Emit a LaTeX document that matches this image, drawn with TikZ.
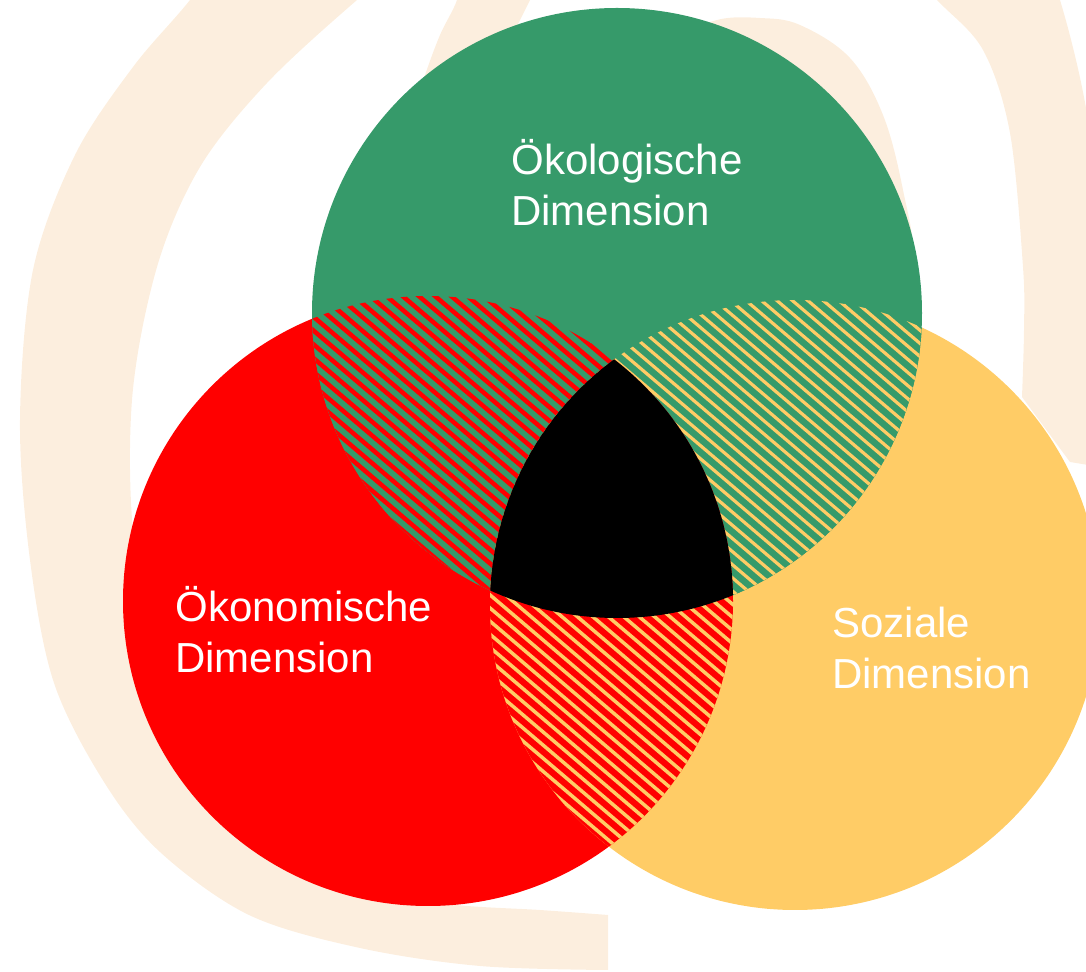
\documentclass[tikz,border=0pt]{standalone}
\usepackage{fontspec}
\setmainfont{Liberation Sans}
\begin{document}
\begin{tikzpicture}[x=0.02cm,y=-0.02cm]
\definecolor{cgreen}{HTML}{369A6A}
\definecolor{cred}{HTML}{FF0000}
\definecolor{cyellow}{HTML}{FFCC66}
\definecolor{cbeige}{HTML}{FCEEDE}
\tikzset{
  lbl/.style={anchor=base west, inner sep=0pt, text=white, font=\fontsize{23.9pt}{29pt}\selectfont},
  redstripe/.style={draw=cred, line width=0.09cm},
  yelstripeg/.style={draw=cyellow, line width=0.064cm},
  yelstriper/.style={draw=cyellow, line width=0.07cm},
  beige/.style={fill=cbeige, draw=none},
}
\useasboundingbox (0,0) rectangle (1086,972);
\clip (0,0) rectangle (1086,972);
\coordinate (G) at (617,313);
\coordinate (R) at (428,601);
\coordinate (Y) at (795,605);
% background "@" : outer spiral stroke
\fill[beige] plot[smooth, tension=0.55] coordinates {(608,970) (480,966) (360,948) (249,915) (160,852) (104,782) (54,683) (30,560) (20,420) (33,270) (75,155) (133,67) (190,0) (250,-80)}
  -- (250,-300) -- (1060,-300) -- (1060,0) .. controls (1072,40) and (1084,90) .. (1090,133)
  -- (1300,133) -- (1300,500) -- (1070,462) -- (1022,397)
  -- plot[smooth, tension=0.55] coordinates {(1022,397) (1024,330) (1023,267) (1010,133) (983,50) (937,0) (890,-50)}
  -- (420,-50)
  -- plot[smooth, tension=0.55] coordinates {(420,-50) (357,0) (267,83) (200,167) (157,267) (132,400) (135,550) (170,700) (260,830) (360,892) (456,905) (540,910) (608,915)}
  -- cycle;
% inner loop of the "@"
\fill[beige] plot[smooth, tension=0.6] coordinates {(462,-30) (457,0) (440,35) (425,75) (410,120)} -- (480,120) -- (515,30) -- (545,-30) -- cycle;
\fill[beige] plot[smooth cycle, tension=0.6] coordinates {(680,40) (717,20) (760,18) (800,25) (850,58) (883,115) (903,190) (912,260) (880,300) (800,200) (700,80)};
% circles
\fill[cred] (R) circle[radius=305];
\fill[cyellow] (Y) circle[radius=305];
\fill[cgreen] (G) circle[radius=305];
% green & red
\begin{scope}
  \clip (G) circle[radius=305];
  \clip (R) circle[radius=305];
  \fill[cgreen] (0,0) rectangle (1086,972);
  \foreach \k in {-60,...,60}{
    \draw[redstripe] ({610-\k*10.5*0.648-900*0.762},{500+\k*10.5*0.762-900*0.648}) -- ({610-\k*10.5*0.648+900*0.762},{500+\k*10.5*0.762+900*0.648});
  }
\end{scope}
% green & yellow
\begin{scope}
  \clip (G) circle[radius=305];
  \clip (Y) circle[radius=305];
  \fill[cgreen] (0,0) rectangle (1086,972);
  \foreach \k in {-60,...,60}{
    \draw[yelstripeg] ({610-\k*10*0.648-900*0.762},{500+\k*10*0.762-900*0.648}) -- ({610-\k*10*0.648+900*0.762},{500+\k*10*0.762+900*0.648});
  }
\end{scope}
% red & yellow
\begin{scope}
  \clip (R) circle[radius=305];
  \clip (Y) circle[radius=305];
  \fill[cred] (0,0) rectangle (1086,972);
  \foreach \k in {-60,...,60}{
    \draw[yelstriper] ({610-\k*10*0.648-900*0.762},{500+\k*10*0.762-900*0.648}) -- ({610-\k*10*0.648+900*0.762},{500+\k*10*0.762+900*0.648});
  }
\end{scope}
% centre
\begin{scope}
  \clip (G) circle[radius=305];
  \clip (R) circle[radius=305];
  \fill[black] (Y) circle[radius=305];
\end{scope}
% labels
\node[lbl] (oekol1) at (511,175) {Ökologische};
\node[lbl] (oekol2) at (511,226) {Dimension};
\node[lbl] (oekon1) at (175,622) {Ökonomische};
\node[lbl] (oekon2) at (175,673) {Dimension};
\node[lbl] (soz1) at (832,638) {Soziale};
\node[lbl] (soz2) at (832,689) {Dimension};
\end{tikzpicture}
\end{document}
